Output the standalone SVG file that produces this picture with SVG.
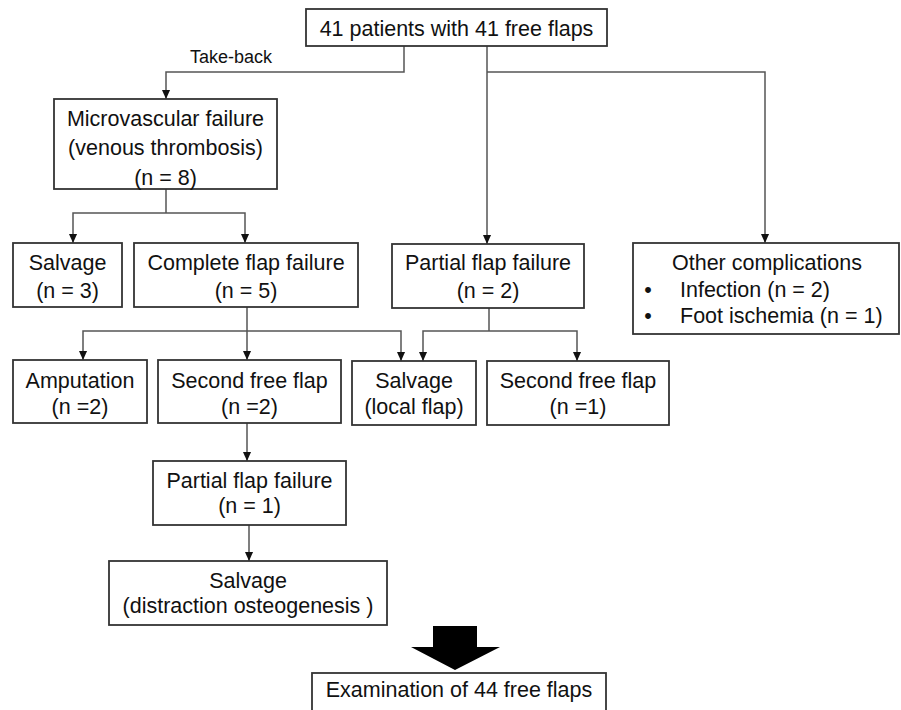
<svg xmlns="http://www.w3.org/2000/svg" width="901" height="710" viewBox="0 0 901 710">
<defs>
<style>
.box{fill:#fff;stroke:#333;stroke-width:1.8}
.t{font-family:"Liberation Sans",Arial,sans-serif;font-size:21.5px;fill:#111;text-anchor:middle}
.tl{font-family:"Liberation Sans",Arial,sans-serif;font-size:21.5px;fill:#111}
.lbl{font-family:"Liberation Sans",Arial,sans-serif;font-size:18px;fill:#111}
.c{fill:none;stroke:#555;stroke-width:1.5}
.ca{fill:none;stroke:#555;stroke-width:1.5;marker-end:url(#ah)}
</style>
<marker id="ah" viewBox="0 0 10 10" refX="10" refY="5" markerWidth="9" markerHeight="9" markerUnits="userSpaceOnUse" orient="auto">
<path d="M0,0.5 L10,5 L0,9.5 z" fill="#111"/>
</marker>
</defs>
<rect width="901" height="710" fill="#fff"/>
<g id="connectors">
<path class="ca" d="M404,46 V72 H166 V99"/>
<text class="lbl" x="190" y="63">Take-back</text>
<path class="ca" d="M487,46 V244"/>
<path class="ca" d="M487,72 H765 V243"/>
<path class="c" d="M166,189 V213"/>
<path class="ca" d="M166,213 H73 V243"/>
<path class="ca" d="M166,213 H245 V243"/>
<path class="c" d="M247,307 V331"/>
<path class="ca" d="M247,331 H83 V360"/>
<path class="ca" d="M247,331 V360"/>
<path class="ca" d="M247,331 H401 V361"/>
<path class="c" d="M489,308 V331"/>
<path class="ca" d="M489,331 H423 V361"/>
<path class="ca" d="M489,331 H577 V361"/>
<path class="ca" d="M247,423 V461"/>
<path class="ca" d="M249,525 V561"/>
<polygon points="433,626 477,626 477,647 500,647 455,670 411,647 433,647" fill="#000"/>
</g>
<g id="n-top">
<rect class="box" x="306" y="9" width="301" height="37"/>
<text class="t" x="456.5" y="36">41 patients with 41 free flaps</text>
</g>
<g id="n-micro">
<rect class="box" x="54" y="99" width="223" height="90"/>
<text class="t" x="165.5" y="126">Microvascular failure</text>
<text class="t" x="165.5" y="155">(venous thrombosis)</text>
<text class="t" x="165.5" y="185">(n = 8)</text>
</g>
<g id="n-salvage3">
<rect class="box" x="13" y="243" width="109" height="64"/>
<text class="t" x="67.5" y="270">Salvage</text>
<text class="t" x="67.5" y="298">(n = 3)</text>
</g>
<g id="n-complete">
<rect class="box" x="134" y="243" width="224" height="64"/>
<text class="t" x="246" y="270">Complete flap failure</text>
<text class="t" x="246" y="298">(n = 5)</text>
</g>
<g id="n-partial2">
<rect class="box" x="392" y="244" width="192" height="64"/>
<text class="t" x="488" y="270">Partial flap failure</text>
<text class="t" x="488" y="298">(n = 2)</text>
</g>
<g id="n-other">
<rect class="box" x="633" y="243" width="266" height="91"/>
<text class="t" x="767" y="270">Other complications</text>
<text class="t" x="648" y="297">•</text>
<text class="tl" x="680" y="297">Infection (n = 2)</text>
<text class="t" x="648" y="323">•</text>
<text class="tl" x="680" y="323">Foot ischemia (n = 1)</text>
</g>
<g id="n-amputation">
<rect class="box" x="13" y="360" width="134" height="63"/>
<text class="t" x="80" y="388">Amputation</text>
<text class="t" x="80" y="414">(n =2)</text>
</g>
<g id="n-second2">
<rect class="box" x="158" y="360" width="183" height="63"/>
<text class="t" x="249.5" y="388">Second free flap</text>
<text class="t" x="249.5" y="414">(n =2)</text>
</g>
<g id="n-salvage-local">
<rect class="box" x="352" y="361" width="124" height="64"/>
<text class="t" x="414" y="388">Salvage</text>
<text class="t" x="414" y="414">(local flap)</text>
</g>
<g id="n-second1">
<rect class="box" x="487" y="361" width="182" height="64"/>
<text class="t" x="578" y="388">Second free flap</text>
<text class="t" x="578" y="414">(n =1)</text>
</g>
<g id="n-partial1">
<rect class="box" x="153" y="461" width="193" height="64"/>
<text class="t" x="249.5" y="488">Partial flap failure</text>
<text class="t" x="249.5" y="513">(n = 1)</text>
</g>
<g id="n-salvage-dist">
<rect class="box" x="109" y="561" width="278" height="64"/>
<text class="t" x="248" y="588">Salvage</text>
<text class="t" x="248" y="613">(distraction osteogenesis )</text>
</g>
<g id="n-exam">
<rect class="box" x="312" y="673" width="294" height="40"/>
<text class="t" x="459" y="697">Examination of 44 free flaps</text>
</g>
</svg>
